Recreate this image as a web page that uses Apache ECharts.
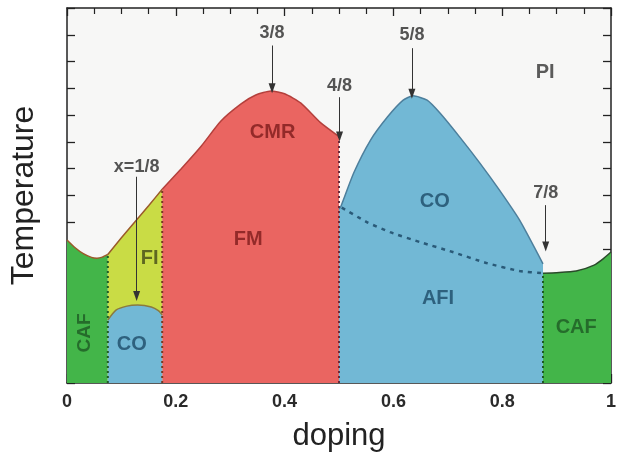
<!DOCTYPE html>
<html>
<head>
<meta charset="utf-8">
<script src="https://cdn.jsdelivr.net/npm/echarts/dist/echarts.min.js"></script>
<style>
html,body{margin:0;padding:0;background:#fff;}
#chart{width:619px;height:462px;}
</style>
</head>
<body>
<div id="chart"></div>
<script>
// ---- data (doping x, temperature in arbitrary units) ----
const cafLeftTop = [[0,5.34],[0.015,5.05],[0.03,4.83],[0.045,4.69],[0.055,4.66],[0.065,4.70],[0.075,4.80]];
const fiTop = [[0.075,4.80],[0.1,5.42],[0.125,6.02],[0.15,6.62],[0.175,7.23]];
const fmTop = [[0.175,7.23],[0.21,8.0],[0.247,8.85],[0.283,9.78],[0.32,10.42],[0.347,10.75],[0.375,10.9],[0.40,10.8],[0.43,10.45],[0.466,9.72],[0.5,9.2]];
const coSmallTop = [[0.075,2.35],[0.09,2.72],[0.11,2.87],[0.13,2.91],[0.155,2.84],[0.168,2.7],[0.175,2.54]];
const coBigTop = [[0.5,6.5],[0.503,6.57],[0.527,7.84],[0.558,9.07],[0.589,9.93],[0.618,10.56],[0.636,10.72],[0.662,10.56],[0.686,10.07],[0.722,9.18],[0.759,8.21],[0.795,7.2],[0.832,6.08],[0.875,4.45]];
const cafRightTop = [[0.875,4.1],[0.9,4.12],[0.936,4.18],[0.969,4.4],[0.987,4.66],[1,4.89]];
const coAfiBoundary = [[0.505,6.55],[0.552,6.0],[0.594,5.63],[0.649,5.26],[0.709,4.89],[0.771,4.48],[0.832,4.18],[0.874,4.10]];
const phaseEdges = [[0.075,4.8],[0.175,7.23],[0.5,9.2],[0.875,4.1]];           // [x, top]
const arrows = [['x=1/8',0.128,8.06,7.7,3.25],['3/8',0.377,13.06,12.6,11.0],['4/8',0.501,11.1,10.67,9.2],['5/8',0.634,13.0,12.5,10.8],['7/8',0.88,7.09,6.64,5.1]]; // [label, x, labelY, fromY, toY]
const regionLabels = [['CMR',0.378,9.37],['FM',0.333,5.34],['PI',0.879,11.6],['CO',0.676,6.79],['AFI',0.682,3.17],['CAF',0.936,2.09],['CO',0.119,1.42],['FI',0.152,4.66]];
const rotatedLabels = [['CAF',0.033,1.87]];
const xTickLabels = ['0','0.2','0.4','0.6','0.8','1'];

// ---- styles ----
const GREEN='#43b549', YELLOW='#c9dc45', RED='#ea6561', BLUE='#72b8d5';
const labelColor = {CMR:'#7d1c1c', FM:'#7d1c1c', PI:'#333333', CO:'#1d4b68', AFI:'#1d4b68', CAF:'#1e5a24', FI:'#444a18'};
const edgeColors = ['#1e5a24','#7a3a22','#6a2a3a','#1e5a24'];
const FONT = 'Liberation Sans, Arial, sans-serif';

function area(name, data, fill, edge, z){
  return {name, type:'line', data, smooth:0.2, showSymbol:false, z,
    lineStyle:{color:edge, width:1.5}, areaStyle:{color:fill, opacity:1}, silent:true};
}

const series = [
  area('CAF-left', cafLeftTop, GREEN, '#9a5a2a', 2),
  area('FI', fiTop, YELLOW, '#9a5a2a', 2),
  area('FM', fmTop, RED, '#b4403c', 2),
  area('CO-small', coSmallTop, BLUE, '#8a7a40', 3),
  area('CO-big', coBigTop, BLUE, '#4d7f9c', 2),
  area('CAF-right', cafRightTop, GREEN, '#2a4a2a', 2),
  {name:'CO/AFI', type:'line', data:coAfiBoundary, smooth:0.2, showSymbol:false, z:4, silent:true,
    lineStyle:{color:'#2a5a78', width:2.5, type:[4,5]}}
];
phaseEdges.forEach((e,i)=>{
  series.push({type:'line', data:[[e[0],0],[e[0],e[1]]], showSymbol:false, z:4, silent:true,
    lineStyle:{color:edgeColors[i], width:2, type:[2,3]}});
});
series.push({type:'line', data:[], z:6, silent:true,
  markLine:{silent:true, symbol:['none','triangle'], symbolSize:[7,10], animation:false,
    lineStyle:{color:'#333', width:1, type:'solid'}, label:{show:false},
    data: arrows.map(a=>[{coord:[a[1],a[3]]},{coord:[a[1],a[4]]}])}});
series.push({type:'scatter', symbolSize:0, z:7, silent:true,
  data: arrows.map(a=>({name:a[0], value:[a[1],a[2]]})),
  label:{show:true, position:'inside', formatter:p=>p.name, color:'#2a2a2a', fontSize:18, fontWeight:'bold', fontFamily:FONT}});
series.push({type:'scatter', symbolSize:0, z:7, silent:true,
  data: regionLabels.map(a=>({name:a[0], value:[a[1],a[2]],
    label:{color:labelColor[a[0]]}})),
  label:{show:true, position:'inside', formatter:p=>p.name, fontSize:20, fontWeight:'bold', fontFamily:FONT}});
series.push({type:'scatter', symbolSize:0, z:7, silent:true,
  data: rotatedLabels.map(a=>({name:a[0], value:[a[1],a[2]]})),
  label:{show:true, position:'inside', rotate:90, formatter:p=>p.name, color:labelColor.CAF, fontSize:19, fontWeight:'bold', fontFamily:FONT}});

const axisLine = {show:true, onZero:false, lineStyle:{color:'#222', width:1.5}};
const chart = echarts.init(document.getElementById('chart'), null, {renderer:'canvas'});
chart.setOption({
  animation:false,
  backgroundColor:'#ffffff',
  grid:{left:65, right:5, top:8, bottom:79, show:true, backgroundColor:'#f7f7f6', borderWidth:0},
  xAxis:[
    {type:'value', position:'bottom', min:0, max:1, interval:0.2,
     axisLine, axisTick:{show:true, inside:true, length:9, lineStyle:{color:'#222', width:1.3}},
     minorTick:{show:true, splitNumber:4, length:5, lineStyle:{color:'#222', width:1.2}},
     splitLine:{show:false},
     axisLabel:{margin:10, color:'#2a2a2a', fontSize:18, fontWeight:'bold', fontFamily:FONT,
       formatter:(v)=>xTickLabels[Math.round(v/0.2)]},
     name:'doping', nameLocation:'middle', nameGap:38,
     nameTextStyle:{fontSize:31, color:'#222', fontFamily:FONT}},
    {type:'value', position:'top', min:0, max:1, interval:0.2,
     axisLine, axisTick:{show:true, inside:true, length:8, lineStyle:{color:'#222', width:1.3}},
     minorTick:{show:true, splitNumber:4, length:6, lineStyle:{color:'#222', width:1.2}},
     splitLine:{show:false}, axisLabel:{show:false}}
  ],
  yAxis:[
    {type:'value', position:'left', min:0, max:14, interval:1,
     axisLine, axisTick:{show:true, inside:true, length:8, lineStyle:{color:'#222', width:1.3}},
     splitLine:{show:false}, axisLabel:{show:false},
     name:'Temperature', nameLocation:'middle', nameGap:27, nameRotate:90,
     nameTextStyle:{fontSize:32, color:'#222', fontFamily:FONT}},
    {type:'value', position:'right', min:0, max:14, interval:1,
     axisLine, axisTick:{show:true, inside:true, length:8, lineStyle:{color:'#222', width:1.3}},
     splitLine:{show:false}, axisLabel:{show:false}}
  ],
  series
});
</script>
</body>
</html>
